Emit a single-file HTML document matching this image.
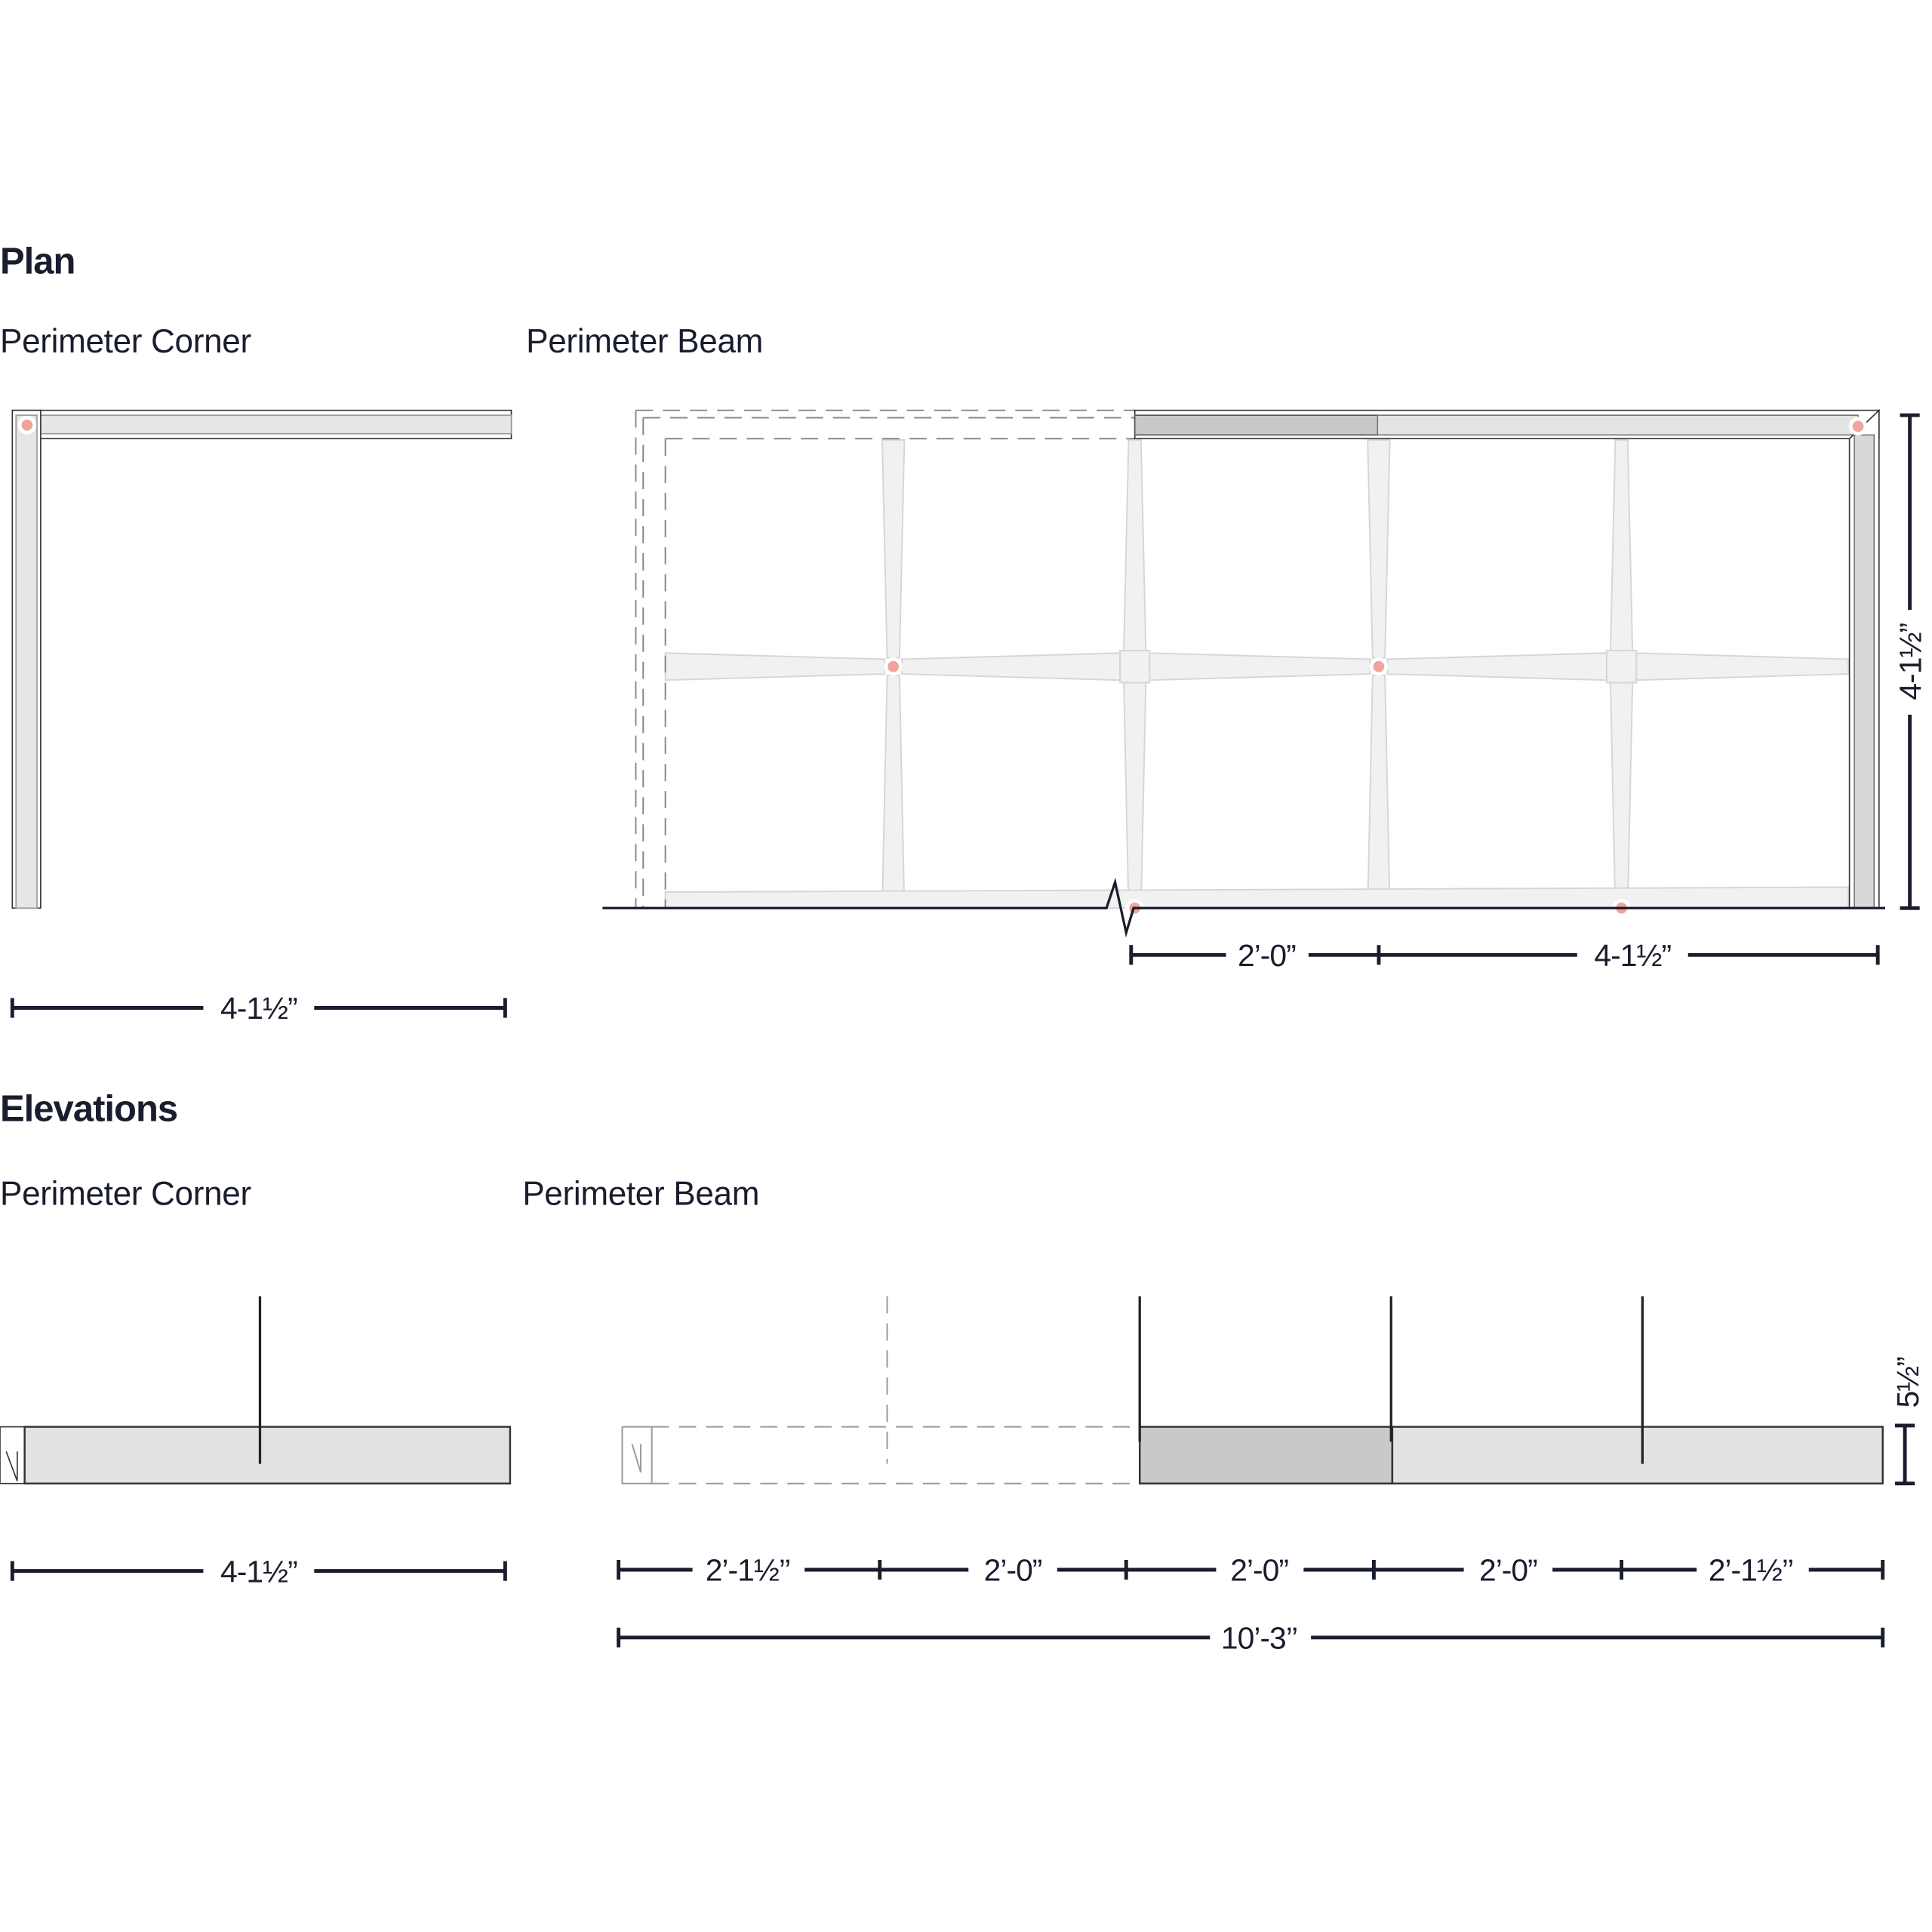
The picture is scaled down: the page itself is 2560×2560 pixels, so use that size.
<!DOCTYPE html>
<html><head><meta charset="utf-8"><style>
html,body{margin:0;padding:0;background:#fff}
svg{display:block}
text{font-family:"Liberation Sans",sans-serif;fill:#1a1d2e}
.h{font-weight:bold;font-size:30px;letter-spacing:-0.6px}
.s{font-size:27px;letter-spacing:-0.2px}
.d{font-size:25px;letter-spacing:-0.6px}
</style></head><body>
<svg width="2560" height="2560" viewBox="0 0 1568 1568" xmlns="http://www.w3.org/2000/svg">
<rect width="1568" height="1568" fill="#fff"/>
<text class="h" x="0" y="222">Plan</text>
<text class="s" x="0" y="286">Perimeter Corner</text>
<text class="s" x="427" y="286">Perimeter Beam</text>

<!-- corner plan -->
<g stroke="#333" stroke-width="1">
<rect x="10" y="333" width="405" height="23" fill="#fff"/>
<rect x="13" y="337" width="402" height="15" fill="#e6e6e6" stroke="#999"/>
<rect x="10" y="333" width="23" height="404" fill="#fff"/>
<rect x="13" y="337" width="17" height="400" fill="#e6e6e6" stroke="#999"/>
</g>
<circle cx="22" cy="345" r="6" fill="#f0a49a" stroke="#fff" stroke-width="3"/>
<g stroke="#1a1d2e" stroke-width="3">
<line x1="10" y1="818" x2="165" y2="818"/><line x1="255" y1="818" x2="410" y2="818"/>
<line x1="10" y1="810" x2="10" y2="826"/><line x1="410" y1="810" x2="410" y2="826"/>
</g>
<text class="d" x="210" y="827" text-anchor="middle">4-1½”</text>

<!-- beam plan: cross beams -->
<g fill="#f1f1f1" stroke="#d6d6d6" stroke-width="1.2">
<polygon points="716,357 734,357 730,534 720,534"/><polygon points="720,548 730,548 734,737 716,737"/>
<polygon points="1110,357 1128,357 1124,534 1114,534"/><polygon points="1114,548 1124,548 1128,737 1110,737"/>
<polygon points="916,357 926,357 930,530 912,530"/><polygon points="912,552 930,552 926,737 916,737"/>
<polygon points="1311,357 1321,357 1325,530 1307,530"/><polygon points="1307,552 1325,552 1321,737 1311,737"/>
<polygon points="540,530 718,535 718,547 540,552"/>
<polygon points="732,535 909,530 909,552 732,547"/>
<polygon points="933,530 1112,535 1112,547 933,552"/>
<polygon points="1126,535 1304,530 1304,552 1126,547"/>
<polygon points="1328,530 1500,535 1500,547 1328,552"/>
<rect x="909" y="528" width="24" height="26"/><rect x="1304" y="528" width="24" height="26"/>
<polygon points="540,724 1500,720 1500,737 540,737"/>
</g>
<g fill="#f0a49a" stroke="#fff" stroke-width="3">
<circle cx="725" cy="541" r="6"/><circle cx="1119" cy="541" r="6"/>
<circle cx="921" cy="737" r="6"/><circle cx="1316" cy="737" r="6"/>
</g>
<!-- dashed perimeter -->
<g fill="none" stroke="#888" stroke-width="1.2" stroke-dasharray="14,8">
<line x1="516" y1="333" x2="921" y2="333"/><line x1="540" y1="356" x2="921" y2="356"/>
<line x1="516" y1="333" x2="516" y2="737"/><line x1="540" y1="356" x2="540" y2="737"/>
<line x1="522" y1="339" x2="921" y2="339"/><line x1="522" y1="339" x2="522" y2="737"/>
</g>
<!-- solid perimeter -->
<rect x="921" y="333" width="604" height="23" fill="#fff" stroke="#333"/>
<rect x="921" y="337" width="197" height="16" fill="#c8c8c8" stroke="#555"/>
<rect x="1118" y="337" width="390" height="16" fill="#e4e4e4" stroke="#777"/>
<polygon points="1501,356 1525,333 1525,737 1501,737" fill="#fff" stroke="#333"/>
<rect x="1505" y="353" width="16" height="384" fill="#d8d8d8" stroke="#777"/>
<circle cx="1508" cy="346" r="6" fill="#f0a49a" stroke="#fff" stroke-width="3"/>
<!-- baseline with break -->
<polyline points="489,737 898,737 905,716 914,757 920,737 1530,737" fill="none" stroke="#1a1d2e" stroke-width="2"/>
<g stroke="#1a1d2e" stroke-width="3">
<line x1="918" y1="775" x2="995" y2="775"/><line x1="1062" y1="775" x2="1280" y2="775"/><line x1="1370" y1="775" x2="1524" y2="775"/>
<line x1="918" y1="767" x2="918" y2="783"/><line x1="1119" y1="767" x2="1119" y2="783"/><line x1="1524" y1="767" x2="1524" y2="783"/>
<line x1="1550" y1="337" x2="1550" y2="495"/><line x1="1550" y1="580" x2="1550" y2="737"/>
<line x1="1542" y1="337" x2="1558" y2="337"/><line x1="1542" y1="737" x2="1558" y2="737"/>
</g>
<text class="d" x="1028" y="784" text-anchor="middle">2’-0”</text>
<text class="d" x="1325" y="784" text-anchor="middle">4-1½”</text>
<text class="d" transform="translate(1559,537) rotate(-90)" text-anchor="middle">4-1½”</text>

<!-- Elevations -->
<text class="h" x="0" y="910">Elevations</text>
<text class="s" x="0" y="978">Perimeter Corner</text>
<text class="s" x="424" y="978">Perimeter Beam</text>

<rect x="0" y="1158" width="20" height="46" fill="#fff" stroke="#333"/>
<rect x="20" y="1158" width="394" height="46" fill="#e2e2e2" stroke="#333" stroke-width="1.5"/>
<polyline points="5,1178 14,1202 14,1178" fill="none" stroke="#333"/>
<line x1="211" y1="1052" x2="211" y2="1188" stroke="#222" stroke-width="2"/>
<g stroke="#1a1d2e" stroke-width="3">
<line x1="10" y1="1275" x2="165" y2="1275"/><line x1="255" y1="1275" x2="410" y2="1275"/>
<line x1="10" y1="1267" x2="10" y2="1283"/><line x1="410" y1="1267" x2="410" y2="1283"/>
</g>
<text class="d" x="210" y="1284" text-anchor="middle">4-1½”</text>

<g fill="none" stroke="#999" stroke-width="1.2">
<rect x="505" y="1158" width="24" height="46"/>
<line x1="529" y1="1158" x2="925" y2="1158" stroke-dasharray="14,8"/>
<line x1="529" y1="1204" x2="925" y2="1204" stroke-dasharray="14,8"/>
<line x1="720" y1="1052" x2="720" y2="1188" stroke-dasharray="14,8"/>
<polyline points="513,1172 520,1195 520,1172"/>
</g>
<rect x="925" y="1158" width="205" height="46" fill="#c9c9c9" stroke="#333" stroke-width="1.5"/>
<rect x="1130" y="1158" width="398" height="46" fill="#e2e2e2" stroke="#333" stroke-width="1.5"/>
<g stroke="#222" stroke-width="2">
<line x1="925" y1="1052" x2="925" y2="1170"/><line x1="1129" y1="1052" x2="1129" y2="1170"/><line x1="1333" y1="1052" x2="1333" y2="1188"/>
</g>
<g stroke="#1a1d2e" stroke-width="3">
<line x1="1546" y1="1157" x2="1546" y2="1204"/><line x1="1538" y1="1157" x2="1554" y2="1157"/><line x1="1538" y1="1204" x2="1554" y2="1204"/>
<line x1="502" y1="1274" x2="562" y2="1274"/><line x1="653" y1="1274" x2="786" y2="1274"/>
<line x1="858" y1="1274" x2="987" y2="1274"/><line x1="1058" y1="1274" x2="1188" y2="1274"/>
<line x1="1260" y1="1274" x2="1377" y2="1274"/><line x1="1468" y1="1274" x2="1528" y2="1274"/>
<line x1="502" y1="1266" x2="502" y2="1282"/><line x1="714" y1="1266" x2="714" y2="1282"/><line x1="914" y1="1266" x2="914" y2="1282"/>
<line x1="1115" y1="1266" x2="1115" y2="1282"/><line x1="1316" y1="1266" x2="1316" y2="1282"/><line x1="1528" y1="1266" x2="1528" y2="1282"/>
<line x1="502" y1="1329" x2="982" y2="1329"/><line x1="1064" y1="1329" x2="1528" y2="1329"/>
<line x1="502" y1="1321" x2="502" y2="1337"/><line x1="1528" y1="1321" x2="1528" y2="1337"/>
</g>
<text class="d" transform="translate(1557,1122) rotate(-90)" text-anchor="middle">5½”</text>
<text class="d" x="607" y="1283" text-anchor="middle">2’-1½’’</text>
<text class="d" x="822" y="1283" text-anchor="middle">2’-0”</text>
<text class="d" x="1022" y="1283" text-anchor="middle">2’-0”</text>
<text class="d" x="1224" y="1283" text-anchor="middle">2’-0”</text>
<text class="d" x="1421" y="1283" text-anchor="middle">2’-1½’’</text>
<text class="d" x="1022" y="1338" text-anchor="middle">10’-3’’</text>
</svg>
</body></html>
